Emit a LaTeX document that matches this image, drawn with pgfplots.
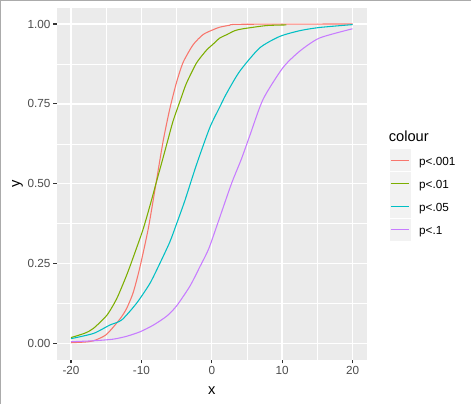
\documentclass[border=0pt]{standalone}
\usepackage{pgfplots}
\pgfplotsset{compat=1.18}
\usepackage{fontspec}
\setmainfont{Liberation Sans}
\definecolor{panelbg}{HTML}{EBEBEB}
\definecolor{tickgrey}{HTML}{4D4D4D}
\definecolor{tickdark}{HTML}{333333}
\definecolor{keybg}{HTML}{F2F2F2}
\definecolor{cred}{HTML}{F8766D}
\definecolor{cgreen}{HTML}{7CAE00}
\definecolor{ccyan}{HTML}{00BFC4}
\definecolor{cpurple}{HTML}{C77CFF}
\definecolor{framegrey}{HTML}{ABABAB}
\begin{document}
\begin{tikzpicture}
\fill[white] (0,0) rectangle (353.25pt,-303pt);
\draw[framegrey, line width=0.75pt] (0.375pt,-303pt) -- (0.375pt,-0.375pt) -- (353.25pt,-0.375pt);
\begin{axis}[
  at={(42.75pt,-270pt)}, anchor=south west,
  scale only axis, width=232.5pt, height=264pt,
  xmin=-22, xmax=22, ymin=-0.05, ymax=1.05,
  axis background/.style={fill=panelbg},
  axis line style={draw=none},
  xtick={-20,-10,0,10,20}, xticklabels={-20,-10,0,10,20},
  ytick={0,0.25,0.5,0.75,1}, yticklabels={0.00,0.25,0.50,0.75,1.00},
  minor xtick={-15,-5,5,15}, minor ytick={0.125,0.375,0.625,0.875},
  grid=both,
  major grid style={white, line width=1pt},
  minor grid style={white, line width=0.5pt},
  tick align=outside, major tick length=2.75pt, minor tick length=0pt,
  major tick style={tickdark, line width=0.8pt},
  xtick pos=bottom, ytick pos=left,
  ticklabel style={font=\fontsize{8.8}{10}\selectfont, text=tickgrey, inner sep=0pt},
  xticklabel style={anchor=north, yshift=-2pt},
  yticklabel style={anchor=east, xshift=-2pt},
  xlabel={x}, xlabel style={at={(axis description cs:0.5,-0.0994)}, anchor=base, inner sep=0pt, font=\fontsize{11}{13}\selectfont},
  ylabel={y}, ylabel style={at={(axis description cs:-0.1194,0.5)}, anchor=base, inner sep=0pt, font=\fontsize{11}{13}\selectfont},
  every axis plot/.append style={line width=0.8pt, no markers, smooth, tension=0.4},
]
\addplot[cred] coordinates {
(-20,0.003) (-18,0.005) (-16.8,0.009) (-15,0.028) (-13.05,0.077) (-12.1,0.11)
(-11.16,0.16) (-10.2,0.24) (-9.03,0.359) (-7.94,0.499) (-6.9,0.635) (-5.96,0.735)
(-5.0,0.818) (-4.07,0.88) (-2.65,0.935) (-1.23,0.967) (0.19,0.982) (1.13,0.99)
(2.55,0.996) (4,0.999) (20,1.0)};
\addplot[cgreen] coordinates {
(-20,0.019) (-18,0.033) (-16.8,0.048) (-14.9,0.089) (-13.5,0.141) (-12.1,0.214)
(-11.16,0.27) (-9.74,0.359) (-8.55,0.45) (-7.94,0.5) (-7.0,0.575) (-6.2,0.64)
(-5.49,0.697) (-4.3,0.772) (-3.59,0.815) (-2.17,0.878) (-0.75,0.918) (0.19,0.937)
(1.13,0.956) (2.08,0.966) (3.26,0.979) (4.44,0.985) (7.76,0.995) (10.6,0.997)};
\addplot[ccyan] coordinates {
(-20,0.0156) (-16.8,0.032) (-14.5,0.058) (-12.8,0.074) (-10.7,0.126) (-8.8,0.188)
(-7.4,0.25) (-5.96,0.318) (-5.0,0.375) (-3.83,0.447) (-2.17,0.56) (-0.28,0.676)
(1.13,0.74) (2.08,0.782) (3.97,0.852) (6.8,0.925) (9.65,0.961) (12.5,0.979)
(15.3,0.989) (20,0.998)};
\addplot[cpurple] coordinates {
(-20,0.006) (-16.8,0.009) (-14.0,0.014) (-12.1,0.023) (-10.2,0.037) (-8.3,0.058)
(-6.4,0.086) (-5.0,0.118) (-3.1,0.18) (-1.7,0.24) (-0.43,0.297) (0.9,0.38)
(2.79,0.5) (4.2,0.577) (5.39,0.65) (7.28,0.764) (10.1,0.863) (12.5,0.915)
(15.3,0.956) (20,0.985)};
\end{axis}
% legend
\node[anchor=base west, inner sep=0pt, font=\fontsize{11}{13}\selectfont] at (291.75pt,-106.3pt) {colour};
\fill[keybg] (292.5pt,-112.04pt) rectangle (308.8pt,-128.76pt);
\fill[keybg] (292.5pt,-129.39pt) rectangle (308.8pt,-146.11pt);
\fill[keybg] (292.5pt,-146.74pt) rectangle (308.8pt,-163.46pt);
\fill[keybg] (292.5pt,-164.09pt) rectangle (308.8pt,-180.81pt);
\draw[cred, line width=0.8pt] (293.25pt,-120.4pt) -- (306.75pt,-120.4pt);
\draw[cgreen, line width=0.8pt] (293.25pt,-137.75pt) -- (306.75pt,-137.75pt);
\draw[ccyan, line width=0.8pt] (293.25pt,-155.1pt) -- (306.75pt,-155.1pt);
\draw[cpurple, line width=0.8pt] (293.25pt,-172.45pt) -- (306.75pt,-172.45pt);
\begin{scope}[every node/.style={anchor=base west, inner sep=0pt, font=\fontsize{8.8}{10}\selectfont}]
\node at (314.5pt,-124.3pt) {p<.001};
\node at (314.5pt,-141.65pt) {p<.01};
\node at (314.5pt,-159.0pt) {p<.05};
\node at (314.5pt,-176.35pt) {p<.1};
\end{scope}
\end{tikzpicture}
\end{document}
